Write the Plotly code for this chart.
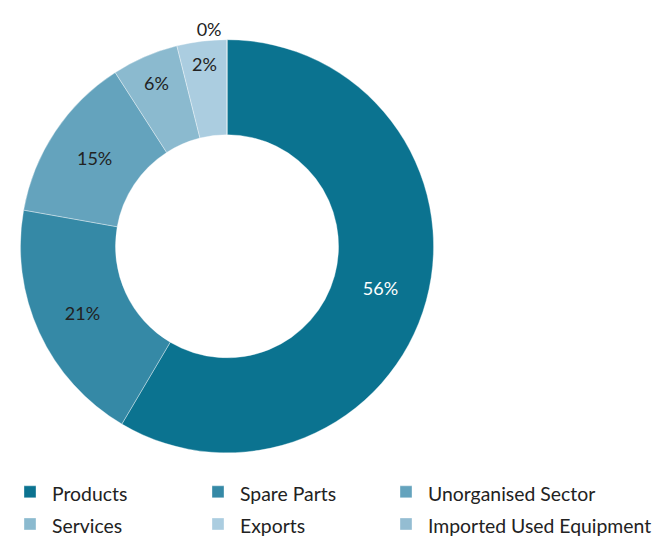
import plotly.graph_objects as go

categories = ["Products", "Spare Parts", "Unorganised Sector", "Services", "Exports", "Imported Used Equipment"]
values = [58.5, 19.3, 13.1, 5.2, 3.9, 0]
pct_labels = ["56%", "21%", "15%", "6%", "2%", "0%"]
colors = ["#0b7390", "#3589a6", "#64a3bd", "#8bbacf", "#abcde0", "#94bdd2"]
text_colors = ["#ffffff", "#222222", "#222222", "#222222", "#222222", "#222222"]
text_positions = ["inside", "inside", "inside", "inside", "inside", "outside"]

W, H = 663, 538
OFF = 8  # page body margin in the browser

legend_names = [f'<span style="font-size:19.4px">{c}</span>' for c in categories]

fig = go.Figure(go.Pie(
    labels=legend_names,
    values=values,
    text=pct_labels,
    textinfo="text",
    hoverinfo="label+percent",
    textposition=text_positions,
    insidetextorientation="horizontal",
    textfont=dict(color=text_colors, size=18, family="Lato"),
    marker=dict(colors=colors, line=dict(color="rgba(255,255,255,0.6)", width=0.6)),
    hole=0.54,
    sort=False,
    direction="clockwise",
    rotation=0,
    domain=dict(x=[(18 - OFF) / W, (436 - OFF) / W],
                y=[1 - (457 - OFF) / H, 1 - (40 - OFF) / H]),
    automargin=False,
))

fig.update_layout(
    width=W, height=H,
    margin=dict(l=0, r=0, t=0, b=0),
    paper_bgcolor="white",
    plot_bgcolor="white",
    font=dict(family="Lato", color="#222222"),
    showlegend=True,
    legend=dict(
        orientation="h",
        x=0, xanchor="left",
        y=1 - 454 / H, yanchor="top",
        entrywidth=139,
        itemwidth=34,
        font=dict(size=22.4, family="Lato", color="#222222"),
        title=dict(text="\u00a0" * 330, font=dict(size=10, color="white"), side="top"),
        traceorder="normal",
    ),
)

fig.write_html("out.html")
